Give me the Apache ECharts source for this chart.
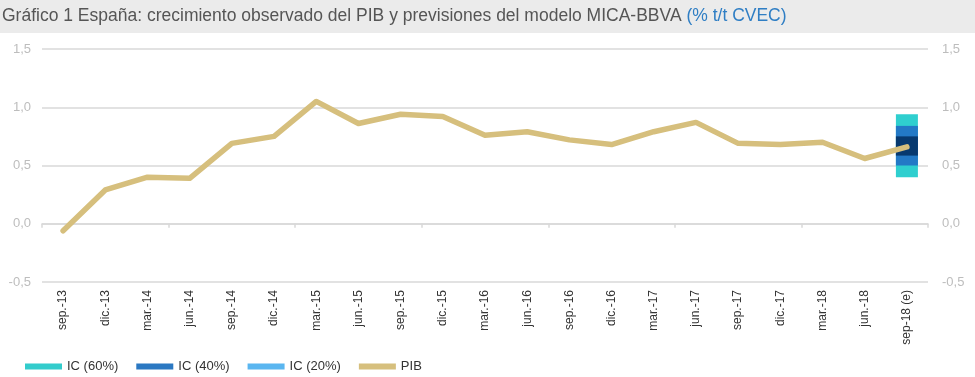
<!DOCTYPE html>
<html>
<head>
<meta charset="utf-8">
<script src="https://cdn.jsdelivr.net/npm/echarts@6/dist/echarts.min.js"></script>
<style>
  html, body { margin: 0; padding: 0; background: #fff; }
  #main { width: 975px; height: 377px; }
</style>
</head>
<body>
<div id="main"></div>
<script>
// datos del gráfico
var categorias = ['sep.-13', 'dic.-13', 'mar.-14', 'jun.-14', 'sep.-14', 'dic.-14', 'mar.-15',
    'jun.-15', 'sep.-15', 'dic.-15', 'mar.-16', 'jun.-16', 'sep.-16', 'dic.-16', 'mar.-17',
    'jun.-17', 'sep.-17', 'dic.-17', 'mar.-18', 'jun.-18', 'sep-18 (e)'];
var pib = [-0.06, 0.29, 0.40, 0.39, 0.69, 0.75, 1.05, 0.86, 0.94, 0.92, 0.76,
    0.79, 0.72, 0.68, 0.79, 0.87, 0.69, 0.68, 0.70, 0.56, 0.66];
// intervalos de confianza de la previsión (min, max)
var ic60 = [0.40, 0.94];
var ic40 = [0.50, 0.84];
var ic20 = [0.585, 0.75];
var yTicks = [-0.5, 0.0, 0.5, 1.0, 1.5];

var myChart = echarts.init(document.getElementById('main'));

var idx = categorias.length - 1;
function soloUltimo(v) {
    return categorias.map(function (c, i) { return i === idx ? v : '-'; });
}
// cada banda: una barra transparente de base + la barra de color apilada
function banda(nombre, rango, color, stack) {
    return [{
        name: 'base' + stack, type: 'bar', stack: stack, barWidth: 22, barGap: '-100%',
        itemStyle: { color: 'transparent' }, silent: true,
        data: soloUltimo(rango[0])
    }, {
        name: nombre, type: 'bar', stack: stack, barWidth: 22, barGap: '-100%',
        itemStyle: { color: color },
        data: soloUltimo(+(rango[1] - rango[0]).toFixed(3))
    }];
}

var fmt = function (v) { return v.toFixed(1).replace('.', ','); };
var gris = '#d9d9d9';

var option = {
    animation: false,
    graphic: [{
        type: 'rect', left: 0, top: 0, z: -1,
        shape: { width: 975, height: 33 },
        style: { fill: '#ebebeb' }
    }],
    title: {
        left: 0, top: 7, padding: [0, 0, 0, 2],
        text: '{a|Gráfico 1 España: crecimiento observado del PIB y previsiones del modelo MICA-BBVA }{b|(% t/t CVEC)}',
        textStyle: {
            rich: {
                a: { fontFamily: 'Liberation Sans', fontWeight: 'normal', fontSize: 17.5, color: '#555' },
                b: { fontFamily: 'Liberation Sans', fontWeight: 'normal', fontSize: 17.5, color: '#2f7ec4' }
            }
        }
    },
    legend: {
        left: 20, top: 355, icon: 'rect', itemWidth: 37, itemHeight: 6, itemGap: 18,
        textStyle: { fontFamily: 'Liberation Sans', fontSize: 13, color: '#333' },
        data: [
            { name: 'IC (60%)', itemStyle: { color: '#33cccc' } },
            { name: 'IC (40%)', itemStyle: { color: '#2b78c2' } },
            { name: 'IC (20%)', itemStyle: { color: '#5ab6f0' } },
            { name: 'PIB' }
        ]
    },
    grid: { left: 42, right: 47, top: 49, bottom: 95 },
    xAxis: [{
        type: 'category', data: categorias, boundaryGap: true,
        axisLine: { onZero: true, lineStyle: { color: gris, width: 1.5 } },
        axisTick: { show: true, interval: 2, length: 4, lineStyle: { color: gris, width: 1.5 } },
        axisLabel: { show: false }
    }, {
        type: 'category', data: categorias, boundaryGap: true, position: 'bottom',
        axisLine: { show: false, onZero: false },
        axisTick: { show: false },
        axisLabel: {
            rotate: 90, interval: 0, margin: 8,
            fontFamily: 'Liberation Sans', fontSize: 12, color: '#333'
        }
    }],
    yAxis: [{
        type: 'value', min: yTicks[0], max: yTicks[yTicks.length - 1], interval: 0.5,
        axisLine: { show: false }, axisTick: { show: false },
        splitLine: { lineStyle: { color: gris, width: 1.5 } },
        axisLabel: { formatter: fmt, margin: 11, fontFamily: 'Liberation Sans', fontSize: 13, color: '#bdbdbd' }
    }, {
        type: 'value', position: 'right', min: yTicks[0], max: yTicks[yTicks.length - 1], interval: 0.5,
        axisLine: { show: false }, axisTick: { show: false }, splitLine: { show: false },
        axisLabel: { formatter: fmt, margin: 14, fontFamily: 'Liberation Sans', fontSize: 13, color: '#bdbdbd' }
    }],
    series: [].concat(
        banda('IC (60%)', ic60, '#2fcfcf', 'b60'),
        banda('IC (40%)', ic40, '#2379c6', 'b40'),
        banda('IC (20%)', ic20, '#07396f', 'b20'),
        [{
            name: 'PIB', type: 'line', data: pib, symbol: 'none', z: 5,
            lineStyle: { color: '#d6bf7d', width: 5.5, join: 'round', cap: 'round' },
            itemStyle: { color: '#d6bf7d' }
        }]
    )
};

myChart.setOption(option);
</script>
</body>
</html>
